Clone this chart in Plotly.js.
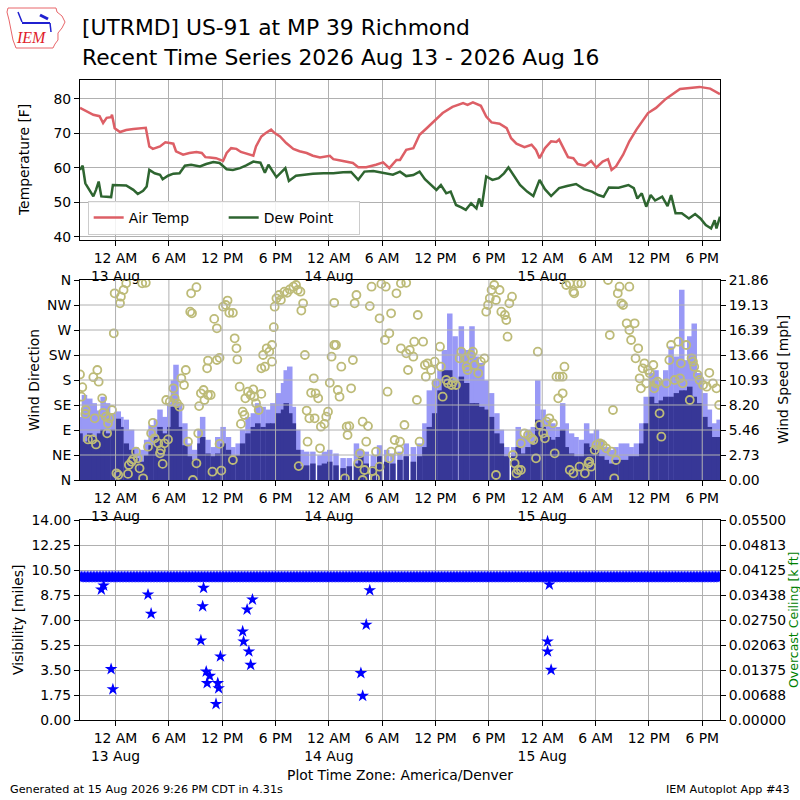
<!DOCTYPE html>
<html><head><meta charset="utf-8">
<script src="https://cdn.plot.ly/plotly-3.0.1.min.js"></script>
<style>html,body{margin:0;padding:0;background:#fff}#chart{width:800px;height:800px}</style>
</head><body><div id="chart"></div>
<script>
// ---------- DATA (hours after 2026-08-12 20:00, America/Denver) ----------
const airHour = [0,0.7,1.5,2.2,2.6,3.0,3.5,3.6,3.9,4.5,5.2,6.0,6.7,7.4,7.8,8.2,9.0,9.6,10.1,10.5,10.8,11.6,12.3,13.1,13.7,14.1,14.6,15.3,16.1,16.5,17.0,17.6,18.1,18.9,19.5,19.8,20.4,20.9,21.5,21.9,22.5,23.2,24.0,24.7,25.5,26.2,27.0,28.1,28.5,29.3,30.0,30.7,31.3,32.2,33.3,34.1,34.8,35.6,36.0,36.7,37.5,38.2,39.0,40.0,40.8,41.9,43.1,43.6,44.2,45.1,45.7,46.3,47.2,48.0,48.5,49.1,50.0,50.8,51.3,51.7,52.3,53.0,53.6,53.9,54.3,54.9,55.5,56.0,56.8,57.5,58.1,58.8,59.4,59.8,60.3,61.1,61.8,62.6,63.9,64.8,65.9,66.7,67.5,68.6,69.7,70.9,71.4,72.0];
const airTemp = [77.4,76.4,75.4,75.0,73.0,74.5,74.7,75.4,71.5,70.4,71.0,71.3,71.5,71.6,66.2,65.5,66.2,67.4,67.2,67.0,64.8,63.8,64.3,64.6,64.3,63.1,63.0,62.8,62.0,64.3,65.7,65.5,64.6,64.0,63.5,66.2,69.1,70.1,71.1,70.1,69.1,67.2,65.5,64.8,64.3,63.5,63.0,63.5,62.5,62.1,61.7,61.4,60.2,60.2,60.9,61.6,59.9,62.3,62.3,65.2,65.7,69.6,71.5,74.0,75.9,77.7,78.8,78.3,79.0,78.0,74.9,73.2,72.8,71.5,68.6,67.0,66.0,66.7,65.2,62.8,65.7,67.7,67.5,68.2,66.0,63.1,62.8,61.1,60.6,62.0,60.1,61.8,62.5,59.4,60.4,63.8,67.7,71.1,75.9,77.4,80.0,81.5,82.9,83.2,83.5,83.0,82.2,81.4];

const dewHour = [0,0.3,0.6,1.1,1.5,1.8,2.1,2.4,3.0,3.5,3.7,4.5,5.2,6.0,6.5,7.1,7.5,7.8,8.4,9.0,9.3,9.9,10.5,11.2,11.8,12.5,13.5,14.2,15.0,15.7,16.5,17.2,18.0,18.7,19.5,20.3,20.8,21.2,22.1,23.1,23.5,24.3,25.2,26.2,27.4,28.5,29.6,30.5,31.3,32.0,33.0,34.1,35.2,36.0,36.7,37.5,38.2,38.8,39.5,40.1,40.6,41.2,41.7,42.3,42.9,43.4,44.0,44.6,44.9,45.2,45.7,46.4,47.1,47.7,48.2,48.8,49.5,50.3,51.0,51.7,52.3,53.0,53.9,54.8,55.8,56.7,57.6,58.3,58.9,59.5,60.6,61.7,62.3,62.7,63.2,63.7,64.2,64.7,65.5,66.1,66.5,67.0,67.7,68.5,69.2,69.8,70.4,71.0,71.4,71.6,72.0];
const dewPoint = [59.4,60.6,55.5,53.6,51.7,53.6,56.0,51.7,51.7,51.5,55.0,55.0,54.9,53.6,52.4,53.3,54.6,59.4,58.4,58.0,56.7,57.7,58.3,58.4,60.6,60.9,60.4,61.1,61.7,61.4,59.6,59.4,59.9,60.7,61.8,61.5,58.6,60.9,57.3,59.9,56.2,57.7,58.0,58.3,58.4,58.4,58.7,58.8,56.5,58.9,59.1,58.6,58.0,58.9,57.6,57.9,58.9,56.7,55.0,53.6,55.0,52.6,53.1,49.2,48.5,47.8,49.7,48.2,51.1,48.7,57.5,56.5,57.0,58.4,60.1,57.9,55.0,53.1,51.8,56.5,53.8,51.8,54.1,54.7,55.3,53.8,53.1,52.1,51.6,54.3,54.2,55.0,54.1,51.1,52.6,48.7,52.1,50.5,51.6,48.9,52.1,46.8,46.8,45.3,46.6,45.3,43.4,42.4,44.8,42.4,45.8];

const windHour = [0,0.5,1.1,1.6,2.2,2.6,3.1,3.7,4.3,4.6,5.2,5.8,6.3,6.9,7.5,8.0,8.6,9.0,9.5,10.1,10.5,10.8,11.2,11.8,12.3,12.9,13.5,13.8,14.4,15.0,15.5,16.1,16.7,17.2,17.8,18.3,18.9,19.5,20.0,20.6,21.2,21.7,22.3,22.9,23.2,23.6,24.0,24.5,24.9,25.5,26.2,27.0,27.5,28.1,28.8,29.6,30.3,31.1,31.6,32.2,33.0,33.7,34.5,35.2,
  36.0,36.7,37.5,38.2,38.8,39.3,39.9,40.5,41.0,41.6,42.2,42.9,43.5,44.1,44.6,45.2,45.7,46.3,46.9,47.4,48.0,48.8,49.3,49.9,50.4,51.0,51.5,52.1,52.7,53.2,53.8,54.3,54.7,55.3,55.8,56.4,57.0,57.5,58.1,58.7,59.2,59.8,60.3,60.9,61.5,62.0,62.6,63.2,63.7,64.3,64.8,65.4,65.9,66.5,67.1,67.7,68.2,68.6,69.1,69.7,70.3,70.8,71.4,71.9];
const windGust = [6.9,9.3,8.9,8.4,7.6,9.1,8.4,7.3,7.5,6.9,6.6,5.5,3.6,3.3,4.4,6.0,6.6,7.7,6.9,8.4,10.9,12.6,8.4,6.2,4.0,3.3,5.5,6.9,4.4,3.6,4.7,5.8,4.7,3.6,4.0,5.5,6.9,7.3,8.4,8.0,7.7,8.4,9.5,10.6,12.0,12.4,8.0,5.5,3.3,3.1,3.1,2.7,3.1,3.3,2.9,2.4,2.4,4.0,3.3,3.1,2.7,3.8,3.3,2.9,
  3.1,4.0,3.6,4.0,6.2,9.8,10.9,12.0,14.2,18.2,15.7,16.8,14.2,16.8,13.5,12.8,10.9,9.5,7.3,5.5,3.6,3.6,5.8,4.7,5.5,5.8,10.9,7.7,6.6,6.2,5.8,8.4,6.2,5.1,4.7,4.4,6.2,5.1,5.5,4.4,3.6,3.3,3.6,4.0,4.0,3.6,4.0,6.2,9.1,11.7,12.0,10.9,12.0,14.6,13.5,20.8,13.1,15.7,17.1,11.7,9.5,7.7,6.2,6.6];
const windSpeed = [5.1,4.2,5.1,4.7,5.1,5.5,5.1,5.5,6.7,5.8,4.0,3.3,2.4,2.0,2.7,3.8,4.7,5.8,5.1,5.8,8.0,8.0,5.8,3.8,2.6,2.2,4.0,4.7,2.9,2.6,2.9,4.0,3.3,2.6,2.7,4.0,5.1,5.8,6.2,5.8,6.2,6.2,7.3,7.7,8.4,7.3,6.2,3.3,1.5,1.6,1.8,1.6,1.8,2.0,1.6,1.3,1.5,1.8,2.6,1.8,1.5,2.6,2.0,1.8,
  2.2,2.6,2.0,2.6,3.6,5.8,7.3,9.8,12.0,12.0,10.9,11.3,10.6,8.4,8.4,8.0,7.7,6.9,5.1,4.0,2.6,2.6,3.6,2.9,3.6,4.0,6.6,5.8,4.7,4.4,4.7,5.5,3.6,2.9,2.6,2.6,4.0,3.6,3.3,2.6,2.2,1.8,2.2,2.2,2.2,2.6,2.6,4.0,6.2,9.1,8.4,8.7,9.1,9.1,9.5,9.8,9.8,10.2,9.1,8.4,6.9,5.8,4.7,4.7];

const dirHour = [0.0,0.26,0.15,0.64,0.6,0.9,1.4,1.8,1.5,1.95, 2.1,2.5,1.65,2.6,2.9,3.15,3.3,3.05,3.6,3.8, 3.9,4.5,4.6,4.9,5.2,4.1,4.3,5.4,5.5,5.8, 5.96,6.3,6.5,6.7,7.0,7.4,7.1,7.65,8.0,8.2, 8.4,8.8,9.0,9.1,9.3,9.5,9.9,9.7,10.1,10.5, 10.65,10.9,11.2,11.4,11.9,11.7,12.15,12.4,12.6,12.5, 13.1,13.1,12.7,13.4,13.3,13.6,13.9,14.0,14.4,14.7, 14.3,14.4,14.9,15.1,15.4,15.4,15.7,15.7,15.9,16.1, 16.4,16.6,16.8,17.2,17.2,17.4,17.6,17.7,17.96,18.3, 18.5,18.1,18.6,18.9,19.2,19.5,19.6,19.8,20.1,20.4, 20.8,20.4,20.6,21.0,21.3,21.6,21.6,21.8,21.9,22.1, 22.4,22.6,23.0,23.3,23.6,24.0,24.3,24.5,24.8,25.1, 24.9,25.3,24.6,25.5,25.6,26.0,26.3,26.5,26.8,25.8, 26.4,27.0,27.1,27.5,27.7,27.9,28.1,28.3,28.6,28.8, 28.6,29.0,29.2,29.4,29.8,30.0,30.3,30.1,30.5,30.7, 30.9,31.1,31.3,31.5,31.8,31.8,32.0,32.2,32.4,32.6, 32.8,32.9,33.2,33.3,33.7,33.7,33.9,34.3,34.4,34.6, 34.8,34.8,35.0,35.0,35.4,35.6,35.9,36.1,36.7,36.0, 36.1,36.7,37.1,37.5,37.6,38.0,38.6,36.9,36.5,38.2, 37.9,38.8,38.9,39.1,39.5,39.9,40.1,40.5,40.6,40.8, 41.2,41.4,41.8,41.96,42.3,42.7,42.9,43.3,43.5,43.6, 44.0,44.2,44.4,44.8,45.1,45.5,45.7,45.9,46.1,46.3, 46.6,46.8,47.2,47.4,47.8,47.96,48.1,48.3,48.6,46.8, 48.7,48.9,49.1,49.3,49.6,49.6,50.0,50.4,50.8,51.0, 51.3,51.5,51.7,52.1,52.3,52.5,52.8,53.2,53.4,53.6, 53.96,54.3,54.5,53.8,54.3,54.7,55.1,55.5,55.6,56.0, 56.4,55.1,55.5,56.2,56.8,57.2,57.3,57.5,57.9,58.1, 58.5,58.8,59.2,59.4,59.6,59.8,59.96,60.1,60.3,60.5, 60.7,60.9,61.1,61.5,61.8,61.8,62.0,62.4,62.5,62.8, 62.96,63.1,63.3,63.5,63.7,63.9,64.1,64.5,64.6,64.8, 65.0,65.2,65.4,65.96,66.3,66.5,66.9,67.3,67.5,67.6, 67.8,68.2,68.6,68.8,68.96,69.1,69.5,69.7,70.1,70.5, 70.8,71.2,71.6,71.9];
const dirDeg = [190,167,150,126,119,73,73,64,185,198, 177,147,111,121,114,102,111,84,126,264, 336,318,330,342,354,12,9,11,27,33, 37,51,39,21,354,355,3,60,84,103, 75,66,48,54,29,66,73,144,141,165, 147,138,132,183,198,171,69,303,300,336, 347,30,0,133,84,156,162,144,153,153, 201,215,15,290,273,216,220,65,17,312, 315,323,301,301,36,255,237,217,168,123, 117,101,147,159,153,163,150,138,126,201, 204,155,225,237,231,213,243,275,312,327, 333,324,339,337,343,348,351,342,339,318, 305,225,25,125,69,157,183,156,147,111, 111,57,96,101,114,123,175,222,243,243, 319,162,150,204,3,96,97,81,165,216, 318,333,30,48,105,0,18,69,97,313, 348,16,3,51,24,291,353,252,348,159, 264,39,300,51,72,336,54,354,355,69, 237,228,234,222,249,297,249,198,99,69, 144,207,186,210,198,213,174,240,204,150, 180,174,171,177,171,219,231,219,204,198, 225,231,207,192,213,219,303,315,327,342, 351,324,342,303,297,288,258,318,330,9, 45,30,12,18,18,66,84,81,75,72, 39,231,99,84,75,105,111,102,48,186, 186,186,204,147,156,351,354,339,336,354, 354,18,12,24,12,30,33,24,54,63, 66,63,57,360,261,51,126,3,36,336, 348,318,315,282,348,270,252,282,219,237, 183,165,201,210,174,198,192,207,165,174, 177,120,78,174,216,243,180,249,183,210, 174,243,144,219,213,204,189,180,171,168, 193,174,165,135];

// visibility: reported 10 miles through the whole period, plus these lower reports
const visBandSpans = [[0, 72]];
const visBandValue = 10;
const visObsMinutes = 10;
const visLowHour = [2.4,2.66,3.5,3.7,7.65,8.0,13.6,13.8,13.9,14.2,14.3,14.6,15.3,15.5,15.6,15.8,18.3,18.4,18.8,19.0,19.2,19.4,31.6,31.8,32.2,32.6,52.6,52.6,52.8,53.0];
const visLow = [9.13,9.41,3.56,2.15,8.78,7.44,5.57,7.96,9.25,3.39,2.58,3.09,1.12,2.58,2.22,4.45,6.2,5.5,7.73,4.8,3.86,8.43,3.28,1.69,6.67,9.08,5.5,4.8,9.48,3.51];
const ceilHour = [];
const ceilKft = [];

// ticks
const timeTickHour = [4,10,16,22,28,34,40,46,52,58,64,70];
const timeTickText = ["12 AM<br>13 Aug","6 AM","12 PM","6 PM","12 AM<br>14 Aug","6 AM","12 PM","6 PM","12 AM<br>15 Aug","6 AM","12 PM","6 PM"];
const tempTicks = [40,50,60,70,80];
const dirTicks = [0,45,90,135,180,225,270,315,360];
const dirTickText = ["N","NE","E","SE","S","SW","W","NW","N"];
const speedMax = 21.86;
const speedTickText = ["0.00","2.73","5.46","8.20","10.93","13.66","16.39","19.13","21.86"];
const visTicks = [0,1.75,3.5,5.25,7,8.75,10.5,12.25,14];
const ceilMax = 0.055;
const ceilTickText = ["0.00000","0.00688","0.01375","0.02063","0.02750","0.03438","0.04125","0.04813","0.05500"];

// ---------- build ----------
const T0 = Date.UTC(2026, 7, 12, 20, 0, 0);
const H = 3600000;
const toX = arr => arr.map(h => T0 + h * H);
const xRange = [T0, T0 + 72 * H];

const bandHour = [], bandVal = [];
visBandSpans.forEach(([a, b]) => {
  for (let h = a; h <= b + 1e-9; h += visObsMinutes / 60) { bandHour.push(h); bandVal.push(visBandValue); }
});

const FONT = 'DejaVu Sans, Verdana, sans-serif';
const GRID = '#b0b0b0';
const FS = 13.9;

const traces = [
  {type:'scatter', mode:'lines', name:'Air Temp', x:toX(airHour), y:airTemp, xaxis:'x', yaxis:'y',
   line:{color:'#dd5f66', width:2.5}},
  {type:'scatter', mode:'lines', name:'Dew Point', x:toX(dewHour), y:dewPoint, xaxis:'x', yaxis:'y',
   line:{color:'#2e6530', width:2.5}},
  {type:'bar', name:'Gust', x:toX(windHour), y:windGust, xaxis:'x2', yaxis:'y2', width:0.62*H,
   marker:{color:'#9999f6', line:{width:0}}, showlegend:false},
  {type:'bar', name:'Speed', x:toX(windHour), y:windSpeed, xaxis:'x2', yaxis:'y2', width:0.62*H,
   marker:{color:'#373797', line:{width:0}}, showlegend:false},
  {type:'scatter', mode:'markers', name:'Direction', x:toX(dirHour), y:dirDeg, xaxis:'x2', yaxis:'y3',
   marker:{symbol:'circle-open', size:8, color:'#bdbb78', line:{width:1.8, color:'#bdbb78'}}, showlegend:false},
  {type:'scatter', mode:'markers', name:'Visibility', x:toX(bandHour.concat(visLowHour)), y:bandVal.concat(visLow), xaxis:'x3', yaxis:'y4',
   marker:{symbol:'star', size:9.5, color:'#0000ff', line:{width:0}}, showlegend:false},
  {type:'scatter', mode:'markers', name:'Ceiling', x:toX(ceilHour), y:ceilKft, xaxis:'x3', yaxis:'y5',
   marker:{color:'green'}, showlegend:false}
];

function xax(anchor, grid) {
  return {type:'date', anchor:anchor, range:xRange, tickvals:toX(timeTickHour), ticktext:timeTickText,
    ticks:'outside', ticklen:5, tickcolor:'#000', showline:true, linecolor:'#000', linewidth:1, mirror:true,
    showgrid:grid, gridcolor:GRID, gridwidth:1, zeroline:false, tickfont:{size:FS}};
}
function yax(o) {
  return Object.assign({ticks:'outside', ticklen:5, tickcolor:'#000', showline:true, linecolor:'#000',
    linewidth:1, zeroline:false, tickfont:{size:FS}, gridcolor:GRID, gridwidth:1}, o);
}

const px = v => (v - 80) / 640;      // horizontal pixel -> paper
const py = v => (720 - v) / 640;     // vertical pixel -> paper
const pathFrom = pts => pts.map((p, i) => (i ? 'L' : 'M') + px(p[0]).toFixed(4) + ',' + py(p[1]).toFixed(4)).join(' ');

const shapes = [];
dirTicks.slice(1, -1).forEach(d => shapes.push({type:'line', layer:'above', xref:'x2 domain', yref:'y3',
  x0:0, x1:1, y0:d, y1:d, line:{color:GRID, width:1}}));
toX(timeTickHour).forEach(t => shapes.push({type:'line', layer:'above', xref:'x2', yref:'y3 domain',
  x0:t, x1:t, y0:0, y1:1, line:{color:GRID, width:1}}));
// logo outline (decorative)
shapes.push({type:'path', xref:'paper', yref:'paper', layer:'above', line:{color:'#e8666a', width:1},
  path: pathFrom([[8,8],[56,8],[57,12],[62,16],[65,22],[62,28],[58,33],[58,40],[55,44],[53,48],[16,48],[13,40],[11,30],[9,20],[7,12]]) + ' Z'});
shapes.push({type:'line', xref:'paper', yref:'paper', layer:'above', x0:px(22), x1:px(50), y0:py(23), y1:py(23), line:{color:'#2020d0', width:2}});
shapes.push({type:'line', xref:'paper', yref:'paper', layer:'above', x0:px(18), x1:px(22), y0:py(12), y1:py(22), line:{color:'#2020d0', width:1.5}});
shapes.push({type:'line', xref:'paper', yref:'paper', layer:'above', x0:px(40), x1:px(48), y0:py(15), y1:py(19), line:{color:'#2020d0', width:3}});
shapes.push({type:'line', xref:'paper', yref:'paper', layer:'above', x0:px(50), x1:px(51), y0:py(23), y1:py(32), line:{color:'#2020d0', width:1.5}});

const annotations = [
  {text:'[UTRMD] US-91 at MP 39 Richmond', xref:'paper', yref:'paper', x:px(80), y:py(28), xanchor:'left', yanchor:'middle', showarrow:false, font:{size:21.8}},
  {text:'Recent Time Series 2026 Aug 13 - 2026 Aug 16', xref:'paper', yref:'paper', x:px(80), y:py(57), xanchor:'left', yanchor:'middle', showarrow:false, font:{size:21.8}},
  {text:'<i>IEM</i>', xref:'paper', yref:'paper', x:px(31), y:py(38), xanchor:'center', yanchor:'middle', showarrow:false, font:{size:16, color:'#e0202a', family:'Liberation Serif, serif'}},
  {text:'Temperature [F]', xref:'paper', yref:'paper', x:px(24), y:py(160), textangle:-90, showarrow:false, xanchor:'center', yanchor:'middle', font:{size:FS}},
  {text:'Wind Direction', xref:'paper', yref:'paper', x:px(34), y:py(380), textangle:-90, showarrow:false, xanchor:'center', yanchor:'middle', font:{size:FS}},
  {text:'Wind Speed [mph]', xref:'paper', yref:'paper', x:px(783), y:py(380), textangle:-90, showarrow:false, xanchor:'center', yanchor:'middle', font:{size:FS}},
  {text:'Visibility [miles]', xref:'paper', yref:'paper', x:px(18), y:py(620), textangle:-90, showarrow:false, xanchor:'center', yanchor:'middle', font:{size:FS}},
  {text:'Overcast Ceiling [k ft]', xref:'paper', yref:'paper', x:px(793), y:py(620), textangle:-90, showarrow:false, xanchor:'center', yanchor:'middle', font:{size:12.5, color:'#008000'}},
  {text:'Plot Time Zone: America/Denver', xref:'paper', yref:'paper', x:0.5, y:py(775), showarrow:false, xanchor:'center', yanchor:'middle', font:{size:FS}},
  {text:'Generated at 15 Aug 2026 9:26 PM CDT in 4.31s', xref:'paper', yref:'paper', x:px(8), y:py(789), showarrow:false, xanchor:'left', yanchor:'middle', font:{size:11.2}},
  {text:'IEM Autoplot App #43', xref:'paper', yref:'paper', x:px(792), y:py(789), showarrow:false, xanchor:'right', yanchor:'middle', font:{size:11.2}}
];

const layout = {
  width:800, height:800, paper_bgcolor:'#fff', plot_bgcolor:'#fff',
  margin:{l:80, r:80, t:80, b:80, pad:0},
  font:{family:FONT, size:FS, color:'#000'},
  barmode:'overlay',
  showlegend:true,
  legend:{orientation:'h', x:0.012, y:py(235), xanchor:'left', yanchor:'bottom', bgcolor:'rgba(255,255,255,0.85)',
    bordercolor:'#cccccc', borderwidth:1, font:{size:FS}, entrywidth:90, entrywidthmode:'pixels'},
  xaxis: xax('y', true),
  yaxis: yax({domain:[0.75,1], range:[39.04,85.5], tickvals:tempTicks, mirror:true, showgrid:true}),
  xaxis2: xax('y2', false),
  yaxis2: yax({domain:[0.375,0.6875], anchor:'x2', side:'right', range:[0,speedMax],
    tickvals:speedTickText.map((s,i)=>speedMax*i/8), ticktext:speedTickText, showgrid:false}),
  yaxis3: yax({overlaying:'y2', anchor:'x2', side:'left', range:[0,360], tickvals:dirTicks, ticktext:dirTickText, showgrid:false}),
  xaxis3: xax('y4', true),
  yaxis4: yax({domain:[0,0.3125], anchor:'x3', range:[0,14], tickvals:visTicks, ticktext:visTicks.map(v=>v.toFixed(2)), showgrid:true}),
  yaxis5: yax({overlaying:'y4', anchor:'x3', side:'right', range:[0,ceilMax],
    tickvals:ceilTickText.map((s,i)=>ceilMax*i/8), ticktext:ceilTickText, showgrid:false}),
  shapes: shapes,
  annotations: annotations
};

Plotly.newPlot('chart', traces, layout, {displayModeBar:false, staticPlot:true});
</script></body></html>
